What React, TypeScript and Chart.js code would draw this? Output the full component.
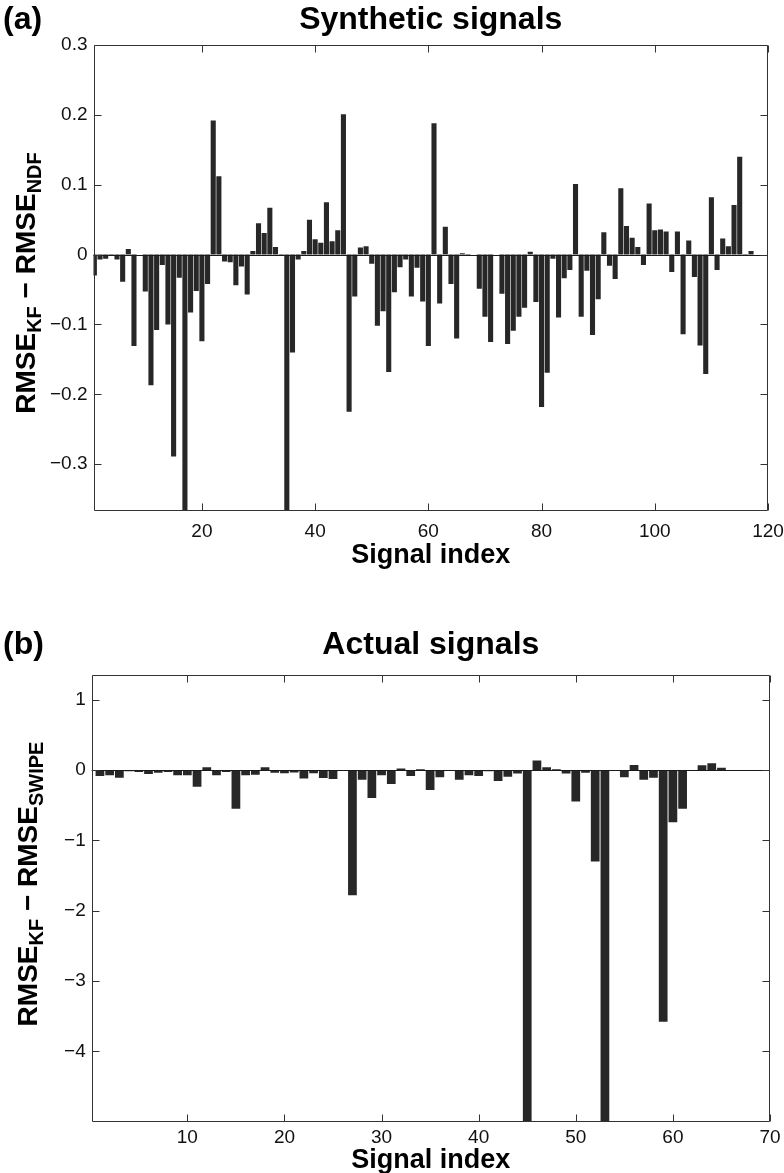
import React, { useEffect, useRef } from "react";
import { Chart, registerables } from "chart.js";
Chart.register(...registerables);

// ---------- Data ----------
const synthValues: number[] = [
  -0.03, -0.007, -0.006, -0.001, -0.007, -0.039, 0.008, -0.131, 0, -0.053,
  -0.187, -0.108, -0.015, -0.1, -0.289, -0.033, -0.42, -0.083, -0.052, -0.124,
  -0.042, 0.192, 0.112, -0.01, -0.011, -0.044, -0.017, -0.057, 0.005, 0.045,
  0.031, 0.067, 0.011, -0.001, -0.45, -0.14, -0.007, 0.005, 0.05, 0.022,
  0.017, 0.075, 0.019, 0.035, 0.201, -0.225, -0.06, 0.01, 0.012, -0.013,
  -0.102, -0.081, -0.168, -0.054, -0.018, -0.007, -0.06, -0.019, -0.067, -0.131,
  0.188, -0.07, 0.04, -0.042, -0.12, 0.002, -0.001, 0, -0.049, -0.089,
  -0.125, 0, -0.056, -0.128, -0.109, -0.089, -0.076, 0.004, -0.068, -0.218,
  -0.169, -0.006, -0.09, -0.034, -0.022, 0.101, -0.089, -0.023, -0.115, -0.064,
  0.032, -0.016, -0.035, 0.095, 0.041, 0.024, 0.011, -0.015, 0.073, 0.035,
  0.036, 0.033, -0.025, 0.033, -0.114, 0.02, -0.032, -0.13, -0.171, 0.082,
  -0.022, 0.023, 0.012, 0.071, 0.14, -0.002, 0.005,
];

const actualValues: number[] = [
  -0.086, -0.076, -0.11, -0.02, -0.03, -0.057, -0.04, -0.03, -0.076, -0.076,
  -0.24, 0.04, -0.076, -0.03, -0.55, -0.076, -0.067, 0.04, -0.04, -0.045,
  -0.035, -0.12, -0.045, -0.115, -0.13, -0.005, -1.78, -0.14, -0.4, -0.076,
  -0.2, 0.02, -0.086, 0.01, -0.286, -0.105, -0.01, -0.138, -0.076, -0.086,
  -0.02, -0.157, -0.095, -0.05, -5.5, 0.133, 0.04, 0.01, -0.05, -0.45,
  -0.04, -1.3, -5.3, -0.014, -0.105, 0.07, -0.14, -0.11, -3.58, -0.743,
  -0.55, 0, 0.067, 0.095, 0.033,
];

const synthXTicks = [20, 40, 60, 80, 100, 120];
const synthYTicks = [-0.3, -0.2, -0.1, 0, 0.1, 0.2, 0.3];
const actualXTicks = [10, 20, 30, 40, 50, 60, 70];
const actualYTicks = [-4, -3, -2, -1, 0, 1];

const FONT = '"Liberation Sans", Arial, Helvetica, sans-serif';

type PanelCfg = {
  values: number[];
  xTicks: number[];
  yTicks: number[];
  xMin: number;
  xMax: number;
  yMin: number;
  yMax: number;
  height: number;
  padTop: number;
  padRight: number;
  yWidth: number;
  xHeight: number;
  xTickPad: number;
  letter: string;
  title: string;
  titleBaseline: number;
  xlabel: string;
  xlabelBaseline: number;
  ylabelSub: string;
  ylabelX: number;
  ylabelY: number;
  decimals: number;
};

const fmt = (v: number, d: number) => {
  if (v === 0) return "0";
  const s = Math.abs(v).toFixed(d);
  return (v < 0 ? "\u2212" : "") + s;
};

const framePlugin = {
  id: "matlabFrame",
  afterDatasetsDraw(chart: any, _args: any, opts: any) {
    const { ctx, chartArea: a, scales } = chart;
    const x = scales.x;
    const y = scales.y;
    const cfg: PanelCfg = opts.cfg;
    ctx.save();
    ctx.strokeStyle = "#1a1a1a";
    ctx.lineWidth = 1;
    const y0 = Math.round(y.getPixelForValue(0)) + 0.5;
    ctx.beginPath();
    ctx.moveTo(a.left, y0);
    ctx.lineTo(a.right, y0);
    ctx.stroke();
    const L = Math.round(a.left) + 0.5;
    const R = Math.round(a.right) - 0.5;
    const T = Math.round(a.top) + 0.5;
    const B = Math.round(a.bottom) - 0.5;
    ctx.strokeStyle = "#333";
    ctx.beginPath();
    ctx.rect(L, T, R - L, B - T);
    ctx.stroke();
    const tl = 7;
    ctx.beginPath();
    cfg.xTicks.forEach((v) => {
      const px = Math.round(x.getPixelForValue(v)) + 0.5;
      ctx.moveTo(px, B);
      ctx.lineTo(px, B - tl);
      ctx.moveTo(px, T);
      ctx.lineTo(px, T + tl);
    });
    cfg.yTicks.forEach((v) => {
      const py = Math.round(y.getPixelForValue(v)) + 0.5;
      ctx.moveTo(L, py);
      ctx.lineTo(L + tl, py);
      ctx.moveTo(R, py);
      ctx.lineTo(R - tl, py);
    });
    ctx.stroke();
    ctx.restore();
  },
  afterDraw(chart: any, _args: any, opts: any) {
    const { ctx, chartArea: a } = chart;
    const cfg: PanelCfg = opts.cfg;
    const cx = (a.left + a.right) / 2;
    ctx.save();
    ctx.fillStyle = "#000";
    ctx.textBaseline = "alphabetic";
    ctx.font = `bold 32px ${FONT}`;
    ctx.textAlign = "left";
    ctx.fillText(cfg.letter, 3, cfg.titleBaseline);
    ctx.textAlign = "center";
    ctx.fillText(cfg.title, cx, cfg.titleBaseline);
    ctx.font = `bold 27px ${FONT}`;
    ctx.fillText(cfg.xlabel, cx, cfg.xlabelBaseline);
    const mainF = `bold 28px ${FONT}`;
    const subF = `bold 20px ${FONT}`;
    const parts: [string, string, number][] = [
      ["RMSE", mainF, 0],
      ["KF", subF, 6],
      [" \u2212 ", mainF, 0],
      ["RMSE", mainF, 0],
      [cfg.ylabelSub, subF, 6],
    ];
    let total = 0;
    parts.forEach(([t, f]) => {
      ctx.font = f;
      total += ctx.measureText(t).width;
    });
    ctx.translate(cfg.ylabelX, cfg.ylabelY);
    ctx.rotate(-Math.PI / 2);
    ctx.textAlign = "left";
    let pos = -total / 2;
    parts.forEach(([t, f, dy]) => {
      ctx.font = f;
      ctx.fillText(t, pos, dy);
      pos += ctx.measureText(t).width;
    });
    ctx.restore();
  },
};

function Panel({ cfg }: { cfg: PanelCfg }) {
  const ref = useRef<HTMLCanvasElement | null>(null);
  useEffect(() => {
    if (!ref.current) return;
    const data = cfg.values.map((v, i) => ({ x: i + 1, y: v }));
    const chart = new Chart(ref.current, {
      type: "bar",
      data: {
        datasets: [
          {
            data: data as any,
            backgroundColor: "#272727",
            borderWidth: 0,
            barPercentage: 0.9,
            categoryPercentage: 1,
            clip: 0 as any,
          },
        ],
      },
      options: {
        animation: false,
        responsive: false,
        devicePixelRatio: 1,
        layout: {
          padding: { left: 0, right: cfg.padRight, top: cfg.padTop, bottom: 0 },
        },
        plugins: {
          legend: { display: false },
          tooltip: { enabled: false },
          title: { display: false },
          matlabFrame: { cfg },
        } as any,
        scales: {
          x: {
            type: "linear",
            min: cfg.xMin,
            max: cfg.xMax,
            offset: false,
            grid: { display: false, drawTicks: false },
            border: { display: false },
            afterBuildTicks: (s: any) => {
              s.ticks = cfg.xTicks.map((v) => ({ value: v }));
            },
            afterFit: (s: any) => {
              s.height = cfg.xHeight;
              s.paddingLeft = 0;
              s.paddingRight = 0;
            },
            ticks: {
              autoSkip: false,
              maxRotation: 0,
              padding: cfg.xTickPad,
              color: "#111",
              font: { family: FONT, size: 19 },
              callback: (v: any) => String(v),
            },
          },
          y: {
            type: "linear",
            min: cfg.yMin,
            max: cfg.yMax,
            grid: { display: false, drawTicks: false },
            border: { display: false },
            afterBuildTicks: (s: any) => {
              s.ticks = cfg.yTicks.map((v) => ({ value: v }));
            },
            afterFit: (s: any) => {
              s.width = cfg.yWidth;
              s.paddingTop = 0;
              s.paddingBottom = 0;
            },
            ticks: {
              autoSkip: false,
              padding: 6,
              color: "#111",
              font: { family: FONT, size: 19 },
              callback: (v: any) => fmt(Number(v), cfg.decimals),
            },
          },
        },
      },
      plugins: [framePlugin as any],
    });
    return () => chart.destroy();
  }, [cfg]);
  return (
    <canvas
      ref={ref}
      width={784}
      height={cfg.height}
      style={{ display: "block", width: 784, height: cfg.height }}
    />
  );
}

const panelA: PanelCfg = {
  values: synthValues,
  xTicks: synthXTicks,
  yTicks: synthYTicks,
  xMin: 0.85,
  xMax: 120,
  yMin: -0.367,
  yMax: 0.3,
  height: 580,
  padTop: 45,
  padRight: 16,
  yWidth: 93.5,
  xHeight: 69,
  xTickPad: 9,
  letter: "(a)",
  title: "Synthetic signals",
  titleBaseline: 29,
  xlabel: "Signal index",
  xlabelBaseline: 563,
  ylabelSub: "NDF",
  ylabelX: 35,
  ylabelY: 283,
  decimals: 1,
};

const panelB: PanelCfg = {
  values: actualValues,
  xTicks: actualXTicks,
  yTicks: actualYTicks,
  xMin: 0.15,
  xMax: 70,
  yMin: -5.0,
  yMax: 1.35,
  height: 593,
  padTop: 95,
  padRight: 14,
  yWidth: 91.7,
  xHeight: 51.3,
  xTickPad: 5,
  letter: "(b)",
  title: "Actual signals",
  titleBaseline: 74,
  xlabel: "Signal index",
  xlabelBaseline: 588,
  ylabelSub: "SWIPE",
  ylabelX: 37,
  ylabelY: 304,
  decimals: 0,
};

export default function App() {
  return (
    <div
      style={{
        position: "absolute",
        left: 0,
        top: 0,
        width: 784,
        height: 1173,
        background: "#fff",
        overflow: "hidden",
      }}
    >
      <Panel cfg={panelA} />
      <Panel cfg={panelB} />
    </div>
  );
}
